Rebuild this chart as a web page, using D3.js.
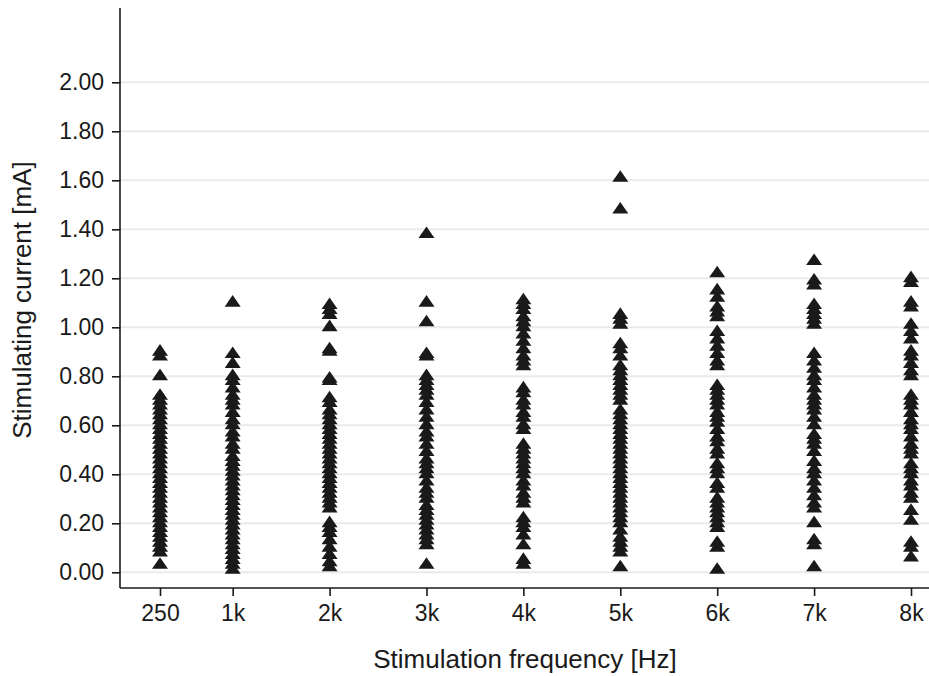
<!DOCTYPE html>
<html>
<head>
<meta charset="utf-8">
<script src="https://cdn.jsdelivr.net/npm/d3@7"></script>
<style>
  body { margin: 0; background: #fff; }
  svg { display: block; font-family: Arial, 'Liberation Sans', sans-serif; }
</style>
</head>
<body>
<svg id="chart" width="929" height="676"></svg>
<script>
const frequencies = [250, 1000, 2000, 3000, 4000, 5000, 6000, 7000, 8000]
const freqLabels = ['250', '1k', '2k', '3k', '4k', '5k', '6k', '7k', '8k']
const yTicks = [0, 0.2, 0.4, 0.6, 0.8, 1.0, 1.2, 1.4, 1.6, 1.8, 2.0]

// thresholds, one list per frequency
const f250 = [0.90, 0.88, 0.80, 0.72, 0.70, 0.68, 0.66, 0.64, 0.62, 0.60, 0.58, 0.56, 0.54,
  0.52, 0.50, 0.48, 0.46, 0.44, 0.42, 0.40, 0.38, 0.36, 0.34, 0.32, 0.30, 0.28, 0.26, 0.24,
  0.22, 0.20, 0.18, 0.16, 0.14, 0.12, 0.10, 0.08, 0.03]
const f1k = [1.10, 0.89, 0.85, 0.80, 0.78, 0.75, 0.72, 0.70, 0.68, 0.65, 0.62, 0.60, 0.57,
  0.55, 0.52, 0.50, 0.47, 0.45, 0.43, 0.41, 0.39, 0.37, 0.35, 0.33, 0.31, 0.29, 0.27, 0.25,
  0.23, 0.21, 0.19, 0.17, 0.15, 0.13, 0.11, 0.09, 0.07, 0.05, 0.03, 0.01]
const f2k = [1.09, 1.07, 1.05, 1.00, 0.91, 0.90, 0.79, 0.78, 0.71, 0.69, 0.66, 0.64, 0.62,
  0.60, 0.58, 0.56, 0.54, 0.52, 0.50, 0.48, 0.46, 0.44, 0.42, 0.40, 0.38, 0.36, 0.34, 0.32,
  0.30, 0.28, 0.26, 0.20, 0.18, 0.16, 0.13, 0.10, 0.07, 0.04, 0.02]
const f3k = [1.38, 1.10, 1.02, 0.89, 0.88, 0.80, 0.78, 0.76, 0.74, 0.72, 0.69, 0.66, 0.63,
  0.60, 0.57, 0.55, 0.52, 0.49, 0.46, 0.44, 0.42, 0.40, 0.37, 0.34, 0.32, 0.30, 0.27, 0.25,
  0.23, 0.21, 0.19, 0.17, 0.15, 0.13, 0.11, 0.03]
const f4k = [1.11, 1.09, 1.07, 1.04, 1.02, 1.00, 0.97, 0.94, 0.91, 0.88, 0.86, 0.84, 0.75,
  0.73, 0.70, 0.68, 0.65, 0.63, 0.60, 0.58, 0.52, 0.50, 0.48, 0.46, 0.44, 0.42, 0.40, 0.37,
  0.35, 0.32, 0.30, 0.28, 0.22, 0.20, 0.18, 0.15, 0.11, 0.05, 0.03]
const f5k = [1.61, 1.48, 1.05, 1.03, 1.01, 0.93, 0.91, 0.88, 0.84, 0.82, 0.80, 0.78, 0.76,
  0.74, 0.72, 0.70, 0.66, 0.64, 0.62, 0.60, 0.58, 0.56, 0.54, 0.52, 0.50, 0.48, 0.46, 0.44,
  0.42, 0.40, 0.38, 0.36, 0.34, 0.32, 0.30, 0.28, 0.26, 0.24, 0.22, 0.20, 0.17, 0.14, 0.12,
  0.10, 0.08, 0.02]
const f6k = [1.22, 1.15, 1.12, 1.08, 1.06, 1.04, 0.98, 0.95, 0.92, 0.89, 0.86, 0.84, 0.76,
  0.74, 0.72, 0.70, 0.68, 0.65, 0.63, 0.61, 0.58, 0.55, 0.53, 0.50, 0.48, 0.44, 0.42, 0.40,
  0.36, 0.34, 0.30, 0.28, 0.26, 0.24, 0.22, 0.20, 0.18, 0.12, 0.10, 0.01]
const f7k = [1.27, 1.19, 1.17, 1.09, 1.07, 1.05, 1.03, 1.01, 0.89, 0.86, 0.83, 0.80, 0.78,
  0.75, 0.72, 0.70, 0.68, 0.66, 0.63, 0.60, 0.56, 0.54, 0.52, 0.49, 0.45, 0.42, 0.40, 0.37,
  0.34, 0.31, 0.28, 0.26, 0.20, 0.13, 0.11, 0.02]
const f8k = [1.20, 1.18, 1.10, 1.08, 1.01, 0.98, 0.95, 0.90, 0.88, 0.85, 0.82, 0.80, 0.72,
  0.70, 0.68, 0.65, 0.62, 0.60, 0.58, 0.55, 0.52, 0.50, 0.48, 0.44, 0.42, 0.40, 0.37, 0.35,
  0.32, 0.30, 0.25, 0.21, 0.12, 0.10, 0.06]

const columns = [f250, f1k, f2k, f3k, f4k, f5k, f6k, f7k, f8k]
const points = columns.flatMap((vals, i) => vals.map((v) => ({ f: frequencies[i], v })))

const svg = d3.select('#chart')
const W = 929
const margin = { top: 8, left: 120, bottom: 88 }
const axisY = 676 - margin.bottom

const x = d3.scaleLinear().domain([250, 8000]).range([160, 911])
const y = d3.scaleLinear().domain([0, 2]).range([572.3, 82.3])

// grid
svg.append('g')
  .selectAll('line')
  .data(yTicks)
  .join('line')
  .attr('x1', margin.left)
  .attr('x2', W)
  .attr('y1', (d) => y(d))
  .attr('y2', (d) => y(d))
  .attr('stroke', '#eaeaea')
  .attr('stroke-width', 2)

// y axis
const yAxis = svg.append('g')
  .attr('transform', `translate(${margin.left},0)`)
  .call(d3.axisLeft(y).tickValues(yTicks).tickFormat(d3.format('.2f')).tickSize(8).tickPadding(8))
yAxis.select('.domain').remove()
yAxis.append('line')
  .attr('x1', 0).attr('x2', 0)
  .attr('y1', margin.top).attr('y2', axisY)
  .attr('stroke', '#1a1a1a').attr('stroke-width', 1.6)

// x axis
const xAxis = svg.append('g')
  .attr('transform', `translate(0,${axisY})`)
  .call(d3.axisBottom(x).tickValues(frequencies).tickFormat((d, i) => freqLabels[i]).tickSize(8).tickPadding(9))
xAxis.select('.domain').remove()
xAxis.append('line')
  .attr('x1', margin.left).attr('x2', W)
  .attr('y1', 0).attr('y2', 0)
  .attr('stroke', '#1a1a1a').attr('stroke-width', 1.6)

svg.selectAll('.tick line').attr('stroke', '#1a1a1a').attr('stroke-width', 1.6)
svg.selectAll('.tick text').attr('fill', '#1a1a1a').style('font-size', '23px')

// markers
const tri = d3.symbol().type(d3.symbolTriangle).size(95)
svg.append('g')
  .selectAll('path')
  .data(points)
  .join('path')
  .attr('d', tri)
  .attr('transform', (d) => `translate(${x(d.f)},${y(d.v)}) scale(1.08,0.9)`)
  .attr('fill', '#1a1a1a')

// titles
svg.append('text')
  .attr('x', 525)
  .attr('y', 668)
  .attr('text-anchor', 'middle')
  .attr('fill', '#1a1a1a')
  .style('font-size', '26px')
  .text('Stimulation frequency [Hz]')

svg.append('text')
  .attr('transform', 'translate(31,300) rotate(-90)')
  .attr('text-anchor', 'middle')
  .attr('fill', '#1a1a1a')
  .style('font-size', '26px')
  .text('Stimulating current [mA]')
</script>
</body>
</html>
